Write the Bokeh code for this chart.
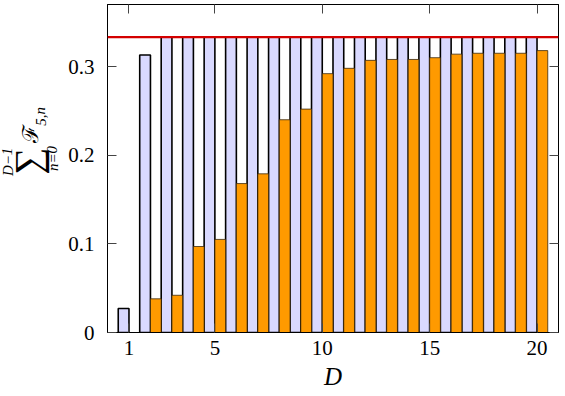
from bokeh.plotting import figure
from bokeh.models import ColumnDataSource, FixedTicker, LinearAxis, Span, Range1d
from bokeh.transform import dodge
from bokeh.layouts import row
from bokeh.core.properties import value
from bokeh.embed import file_html
from bokeh.resources import INLINE

# ---- data ----
D = [1, 2, 3, 4, 5, 6, 7, 8, 9, 10, 11, 12, 13, 14, 15, 16, 17, 18, 19, 20]
total = [0.027, 0.313, 0.3333, 0.3333, 0.3333, 0.3333, 0.3333, 0.3333, 0.3333, 0.3333,
         0.3333, 0.3333, 0.3333, 0.3333, 0.3333, 0.3333, 0.3333, 0.3333, 0.3333, 0.3333]
partial = [0.0, 0.038, 0.042, 0.097, 0.105, 0.168, 0.179, 0.240, 0.252, 0.292,
           0.298, 0.307, 0.308, 0.308, 0.310, 0.314, 0.315, 0.315, 0.315, 0.318]
limit = 0.3333
x_ticks = [1, 5, 10, 15, 20]
y_ticks = [0, 0.1, 0.2, 0.3]
y_tick_labels = ["0", "0.1", "0.2", "0.3"]
x_title = "D"
y_title_parts = ["D−1", "∑", "n=0", "ℱ", "5,n"]

SERIF = "Liberation Serif"
W, H = 565, 396
LAB_W = 62

src = ColumnDataSource(dict(D=D, total=total, partial=partial))

p = figure(width=W - LAB_W, height=H, x_range=Range1d(0, 21), y_range=Range1d(0, 0.37),
           output_backend="svg", toolbar_location=None,
           min_border_left=107 - LAB_W, min_border_right=7, min_border_top=4, min_border_bottom=64)
p.grid.visible = False
p.outline_line_color = "black"
p.outline_line_width = 1

p.vbar(x=dodge("D", -0.25, range=p.x_range), top="total", width=0.5, source=src,
       fill_color="#d9d9ff", line_color="black", line_width=1.6)
p.vbar(x=dodge("D", 0.25, range=p.x_range), top="partial", width=0.5, source=src,
       fill_color="#ff9a00", line_color="#3a2a10", line_width=0.8)

p.add_layout(Span(location=limit, dimension="width", line_color="#d40000", line_width=2.2))

def style_axis(ax, ticks, show_labels):
    ax.ticker = FixedTicker(ticks=ticks)
    ax.major_tick_in = 9
    ax.major_tick_out = 0
    ax.major_tick_line_color = "#444444"
    ax.minor_tick_line_color = None
    ax.axis_line_color = "black"
    if show_labels:
        ax.major_label_text_font = SERIF
        ax.major_label_text_font_size = "21px"
        ax.major_label_text_color = "black"
    else:
        ax.major_label_text_color = None
        ax.major_label_text_font_size = "1px"
        ax.major_label_standoff = 0

xa = p.xaxis[0]
style_axis(xa, x_ticks, True)
xa.major_label_standoff = 8
xa.axis_label = x_title
xa.axis_label_text_font = SERIF
xa.axis_label_text_font_style = "italic"
xa.axis_label_text_font_size = "25px"
xa.axis_label_text_color = "black"
xa.axis_label_standoff = 5

ya = p.yaxis[0]
style_axis(ya, y_ticks, True)
ya.major_label_standoff = 13
ya.major_label_overrides = {t: s for t, s in zip(y_ticks, y_tick_labels)}

top_ax = LinearAxis()
style_axis(top_ax, x_ticks, False)
p.add_layout(top_ax, "above")
right_ax = LinearAxis()
style_axis(right_ax, y_ticks, False)
p.add_layout(right_ax, "right")

# ---- y-axis title, built from pieces in a narrow side panel ----
lab = figure(width=LAB_W, height=H, x_range=Range1d(0, LAB_W), y_range=Range1d(0, H),
             output_backend="svg", toolbar_location=None,
             x_axis_location=None, y_axis_location=None,
             min_border_left=0, min_border_right=0, min_border_top=0, min_border_bottom=0)
lab.grid.visible = False
lab.outline_line_color = None
lab_layout = ColumnDataSource(dict(
    text=y_title_parts,
    x=[7, 27, 52, 30, 40],
    y=[H - 190, H - 189, H - 186, H - 156, H - 135],
    size=["15px", "38px", "15px", "22px", "15px"],
    style=["italic", "normal", "italic", "normal", "italic"],
))
lab.text(x="x", y="y", text="text", source=lab_layout, angle=1.5708,
         text_font=value(SERIF), text_font_size="size", text_font_style="style",
         text_align="center", text_baseline="middle", text_color="black")

open("out.html", "w").write(file_html(row(lab, p), INLINE))
